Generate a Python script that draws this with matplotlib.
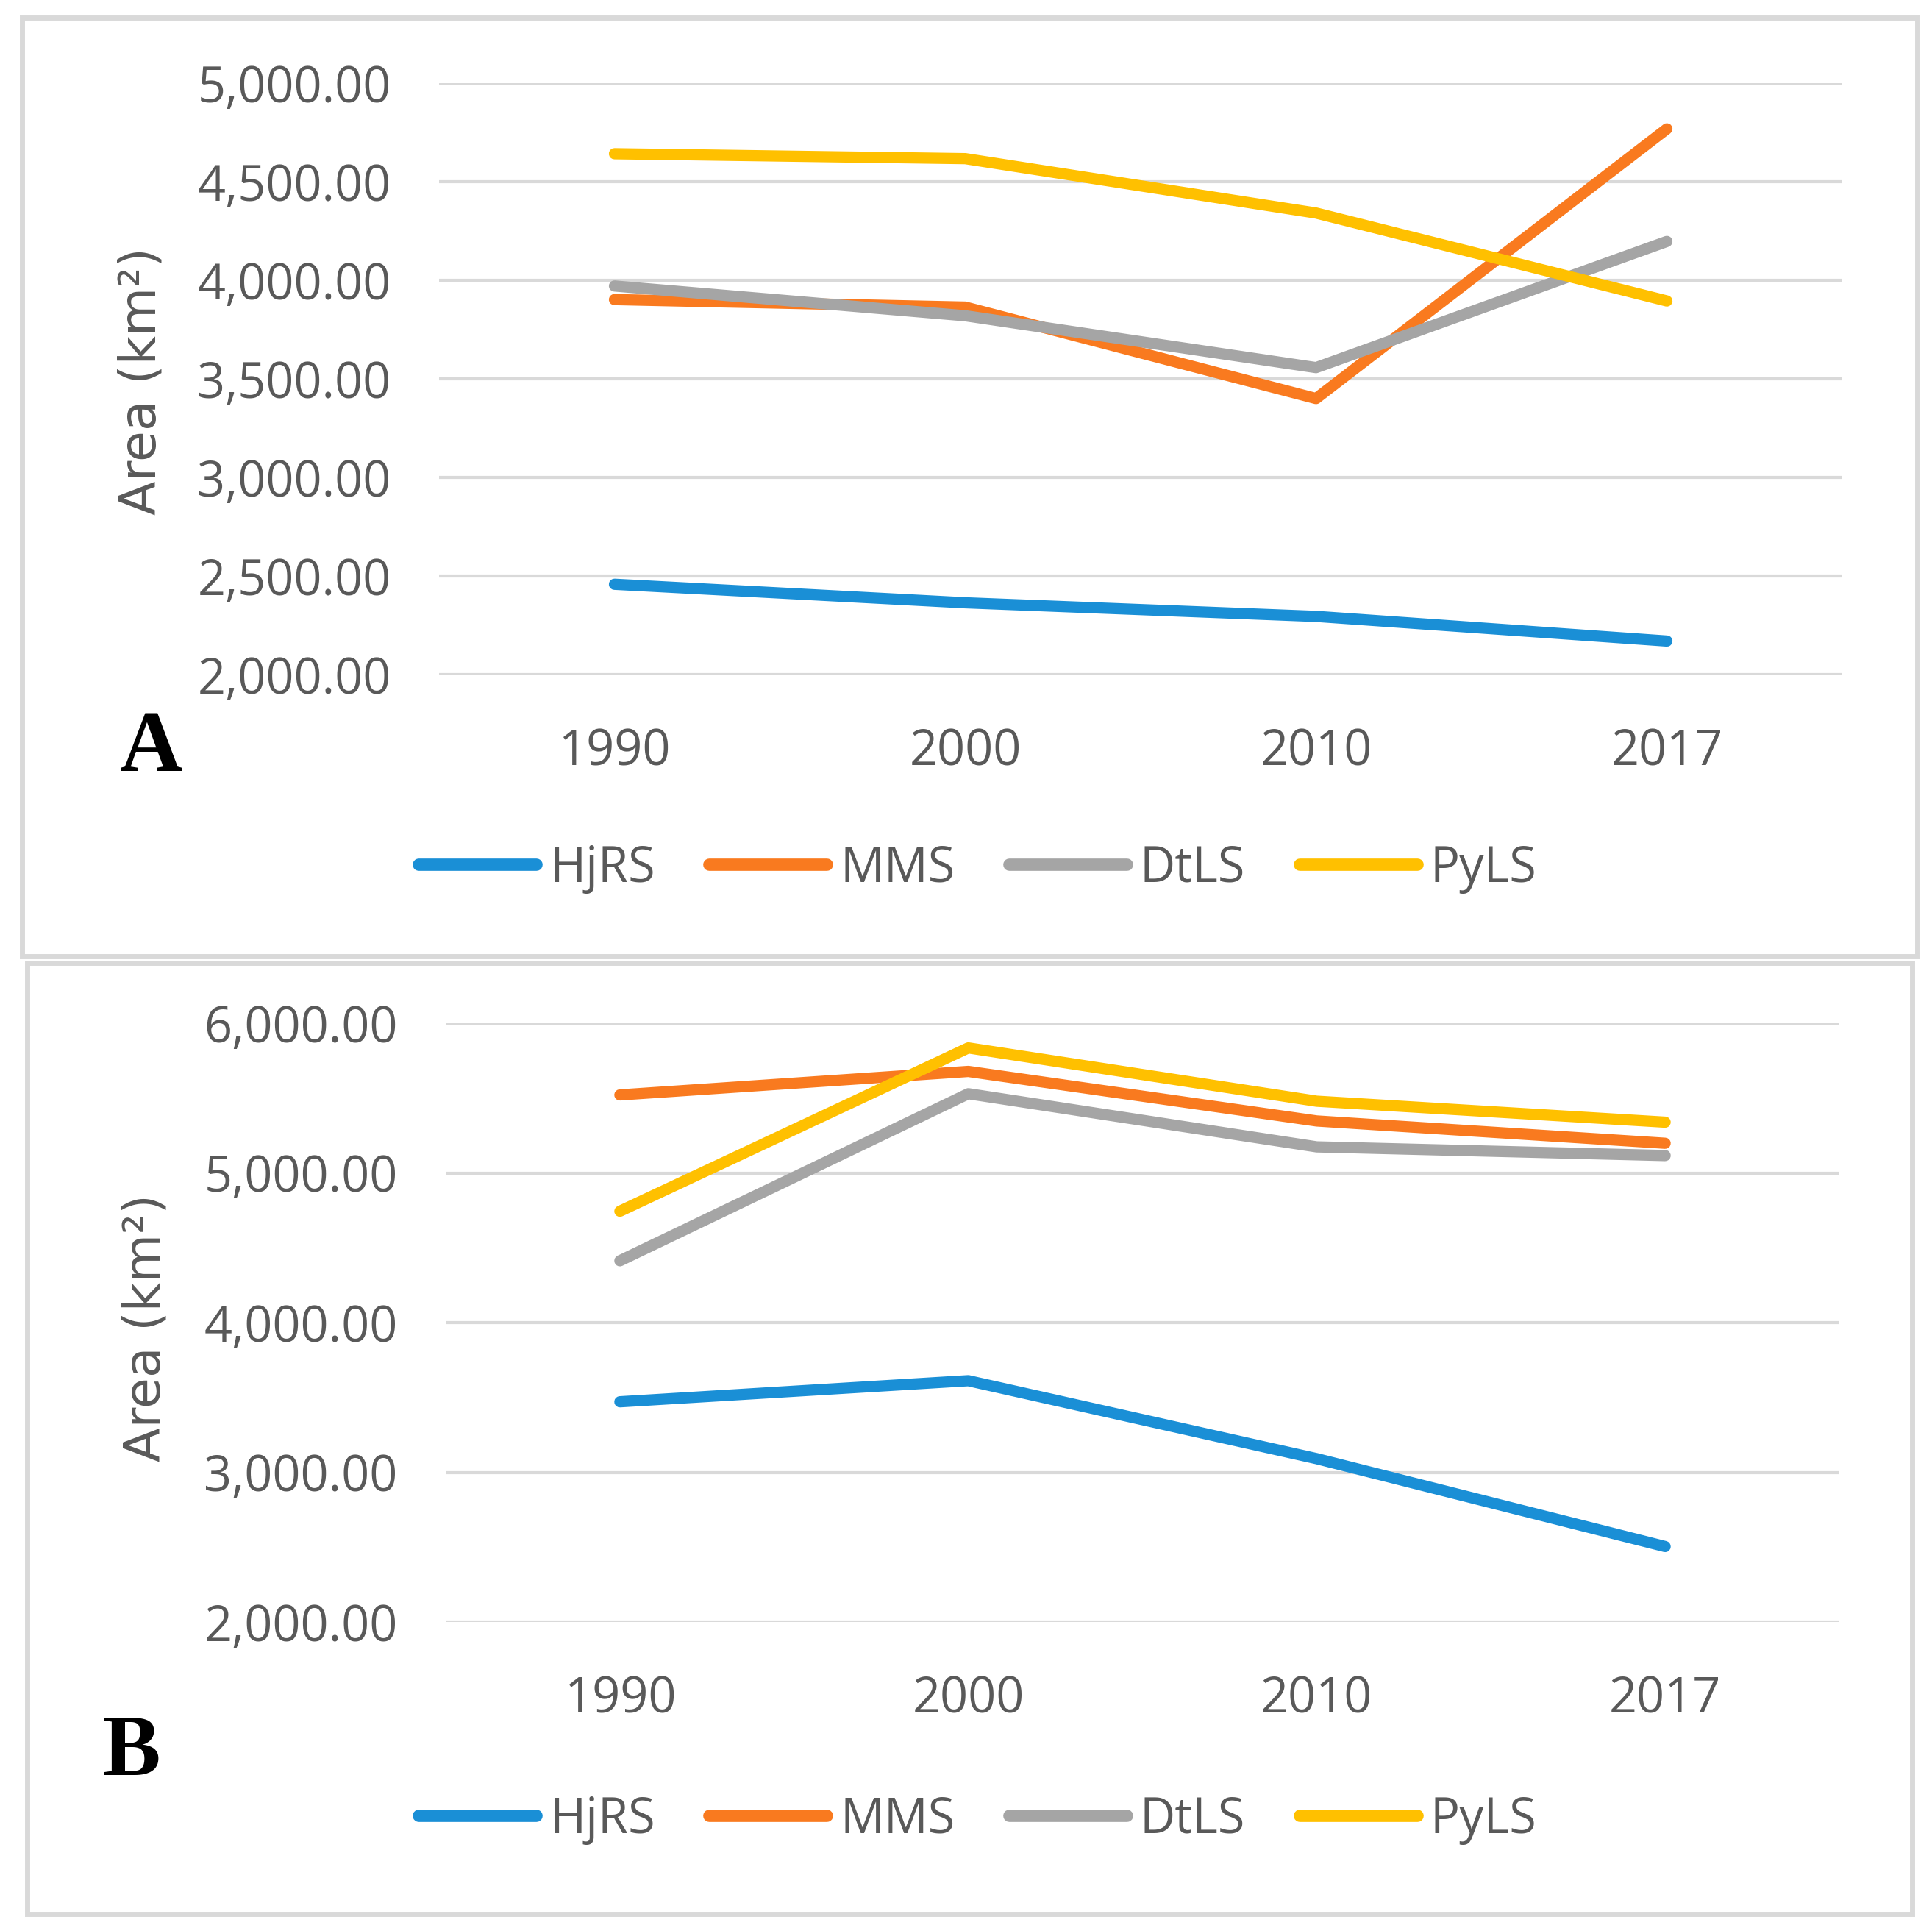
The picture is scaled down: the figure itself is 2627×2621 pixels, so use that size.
import numpy as np
import matplotlib.pyplot as plt
from matplotlib.patches import Rectangle
from matplotlib.lines import Line2D

years = ['1990', '2000', '2010', '2017']
series = ['HjRS', 'MMS', 'DtLS', 'PyLS']
colors = ['#1a8fd6', '#f97a1f', '#a5a5a5', '#ffc000']

# panel A
hjrs_a = [2458, 2364, 2295, 2170]
mms_a = [3902, 3864, 3400, 4768]
dtls_a = [3971, 3820, 3557, 4197]
pyls_a = [4642, 4617, 4341, 3895]

# panel B
hjrs_b = [3471, 3612, 3091, 2504]
mms_b = [5521, 5678, 5347, 5198]
dtls_b = [4413, 5529, 5174, 5116]
pyls_b = [4744, 5835, 5479, 5339]

W, H = 2627, 2621
fig = plt.figure(figsize=(W / 100, H / 100), dpi=100)
fig.patch.set_facecolor('white')

txt_col = '#595959'
tick_font = 'Open Sans'


def px_box(x0, y0, x1, y1):
    # pixel box (top-left origin) -> figure fraction [left, bottom, width, height]
    return [x0 / W, 1 - y1 / H, (x1 - x0) / W, (y1 - y0) / H]


def draw_panel(ax, data, yticks, letter, letter_xy, ylab_xy, leg_y):
    x = np.arange(len(years))
    for vals, c in zip(data, colors):
        ax.plot(x, vals, color=c, lw=11, solid_capstyle='round',
                solid_joinstyle='round', zorder=3)
    ax.set_xlim(-0.5, len(years) - 0.5)
    ax.set_ylim(yticks[0], yticks[-1])
    ax.set_yticks(yticks)
    ax.set_yticklabels(['{:,.2f}'.format(v) for v in yticks],
                       fontfamily=tick_font, fontsize=48, color=txt_col)
    ax.set_xticks(x)
    ax.set_xticklabels(years, fontfamily=tick_font, fontsize=48, color=txt_col)
    ax.tick_params(axis='y', length=0, pad=47)
    ax.tick_params(axis='x', length=0, pad=52)
    ax.grid(axis='y', color='#d9d9d9', lw=3, zorder=0)
    for s in ax.spines.values():
        s.set_visible(False)

    fig.text(ylab_xy[0] / W, 1 - ylab_xy[1] / H, 'Area (km²)',
             rotation=90, ha='center', va='center', fontsize=49,
             color=txt_col, family='DejaVu Sans')
    fig.text(letter_xy[0] / W, 1 - letter_xy[1] / H, letter,
             ha='center', va='baseline', fontsize=85, fontweight='bold',
             family='Liberation Serif', color='black')

    handles = [Line2D([], [], color=c, lw=12, solid_capstyle='round')
               for c in colors]
    leg = fig.legend(handles, series, loc='center',
                     bbox_to_anchor=(0.506, 1 - leg_y / H), ncol=4,
                     frameon=False, handlelength=2.4, handletextpad=0.27,
                     columnspacing=1.1,
                     prop={'family': tick_font, 'size': 48})
    for t in leg.get_texts():
        t.set_color(txt_col)


ax_a = fig.add_axes(px_box(597, 113, 2505, 917))
draw_panel(ax_a, [hjrs_a, mms_a, dtls_a, pyls_a],
           [2000, 2500, 3000, 3500, 4000, 4500, 5000],
           'A', (205, 1048), (193, 518), 1181)

ax_b = fig.add_axes(px_box(606, 1391, 2501, 2205))
draw_panel(ax_b, [hjrs_b, mms_b, dtls_b, pyls_b],
           [2000, 3000, 4000, 5000, 6000],
           'B', (178, 2413), (198, 1805), 2474)

# light grey frames round each panel
for (x0, y0, x1, y1) in [(30, 24, 2607, 1300), (37, 1309, 2600, 2602)]:
    l, b, w, h = px_box(x0, y0, x1, y1)
    fig.patches.append(Rectangle((l, b), w, h, transform=fig.transFigure,
                                 fill=False, edgecolor='#d9d9d9', lw=5))

plt.savefig('out.png', dpi=100)
